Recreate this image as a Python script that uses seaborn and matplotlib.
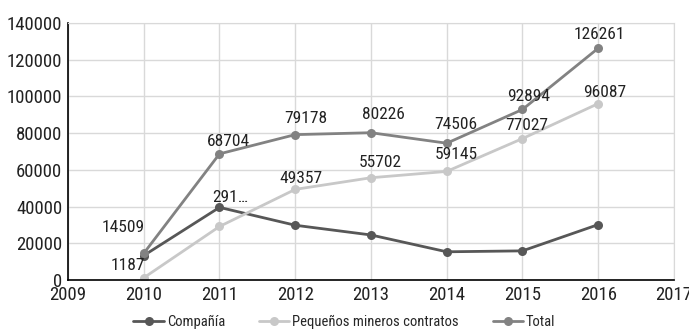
import matplotlib
matplotlib.use("Agg")
import matplotlib.pyplot as plt
import pandas as pd
import seaborn as sns

# --- data ---
years = [2010, 2011, 2012, 2013, 2014, 2015, 2016]
compania = [13322, 39557, 29821, 24524, 15361, 15867, 30174]
pequenos = [1187, 29147, 49357, 55702, 59145, 77027, 96087]
total = [14509, 68704, 79178, 80226, 74506, 92894, 126261]
series_names = ["Compañía", "Pequeños mineros contratos", "Total"]
series_colors = ["#575757", "#c8c8c8", "#828282"]

# the 2011 label is cut off in the original
pequenos_labels = ["1187", "291…", "49357", "55702", "59145", "77027", "96087"]
total_labels = [str(v) for v in total]

x_ticks = list(range(2009, 2018))
y_ticks = list(range(0, 140001, 20000))

df = pd.DataFrame({
    "year": years * 3,
    "value": compania + pequenos + total,
    "serie": [series_names[0]] * 7 + [series_names[1]] * 7 + [series_names[2]] * 7,
})

sns.set_style("white")
plt.rcParams["font.family"] = ["Roboto Condensed", "Archivo Narrow", "DejaVu Sans"]

fig = plt.figure(figsize=(6.89, 3.34), dpi=100)
ax = fig.add_axes([0.0987, 0.1617, 0.8795, 0.7695])

sns.lineplot(data=df, x="year", y="value", hue="serie", hue_order=series_names,
             palette=dict(zip(series_names, series_colors)), marker="o",
             markersize=6.5, markeredgewidth=0, linewidth=2, ax=ax)

# value labels (pixel offsets mimic the original's collision shuffling)
total_off = [(-21, 26), (9, 12), (11, 16), (12, 18), (9, 19), (6, 13), (1, 14)]
peq_off = [(-16, 12), (11, 29), (6, 11), (9, 15), (10, 17), (4, 13), (6, 11)]
for yr, v, lab, off in zip(years, total, total_labels, total_off):
    ax.annotate(lab, (yr, v), xytext=off, textcoords="offset pixels",
                ha="center", va="center", fontsize=12.5, color="#222222")
for yr, v, lab, off in zip(years, pequenos, pequenos_labels, peq_off):
    ax.annotate(lab, (yr, v), xytext=off, textcoords="offset pixels",
                ha="center", va="center", fontsize=12.5, color="#222222")

ax.set_xlim(2009, 2017)
ax.set_ylim(0, 140000)
ax.set_xticks(x_ticks)
ax.set_yticks(y_ticks)
ax.set_xticklabels([str(t) for t in x_ticks])
ax.set_yticklabels([str(t) for t in y_ticks])
ax.tick_params(axis="both", length=0, labelsize=13.5, colors="#222222", pad=4)
ax.set_xlabel("")
ax.set_ylabel("")
ax.grid(True, color="#d9d9d9", linewidth=1)
ax.set_axisbelow(True)

for side in ["top", "right"]:
    ax.spines[side].set_color("#d9d9d9")
for side in ["left", "bottom"]:
    ax.spines[side].set_color("#000000")
    ax.spines[side].set_linewidth(1.2)

handles, labels = ax.get_legend_handles_labels()
ax.get_legend().remove()
fig.legend(handles, labels, loc="center", bbox_to_anchor=(0.5, 0.036), ncol=3,
           frameon=False, fontsize=10.5, handlelength=2.1, columnspacing=2.3,
           handletextpad=0.2)

fig.savefig("out.png", dpi=100)
